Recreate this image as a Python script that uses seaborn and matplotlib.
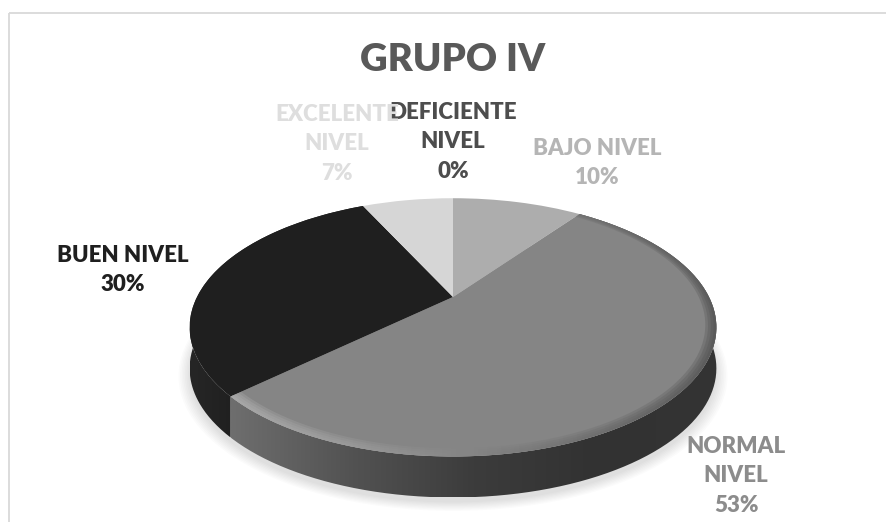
import numpy as np
import matplotlib
matplotlib.use('Agg')
import matplotlib.pyplot as plt
import seaborn as sns
from matplotlib.colors import LinearSegmentedColormap
from matplotlib.patches import Circle, Rectangle
from matplotlib.path import Path
from matplotlib.transforms import Affine2D, Transform

title = 'GRUPO IV'
categories = ['DEFICIENTE\nNIVEL', 'BAJO NIVEL', 'NORMAL\nNIVEL', 'BUEN NIVEL', 'EXCELENTE\nNIVEL']
values = [0, 10, 53, 30, 7]
slice_colors = ['#4d4d4d', '#adadad', '#858585', '#1f1f1f', '#d6d6d6']
text_colors = ['#4d4d4d', '#b5b5b5', '#8c8c8c', '#1f1f1f', '#dedede']
label_pos = [(453, 142), (597, 163), (736, 476), (123, 270), (337, 144)]

# pie geometry in pixels
cx, cy = 453, 297
rx, ry = 256, 122
tilt_k = 0.235
depth = 41


class Tilt(Transform):
    # unit circle -> perspective ellipse in pixel coordinates
    input_dims = 2
    output_dims = 2

    def transform_non_affine(self, xy):
        xy = np.asarray(xy, dtype=float)
        w = 1 + tilt_k * xy[:, 1]
        return np.column_stack([cx + rx * xy[:, 0] / w, cy - ry * xy[:, 1] / w])


sns.set_theme(style='white')
plt.rcParams['font.family'] = ['Lato', 'DejaVu Sans']

fig = plt.figure(figsize=(8.86, 5.22), dpi=100)
ax = fig.add_axes([0, 0, 1, 1])
tilt = Tilt()

wedges, _ = ax.pie(values, colors=sns.color_palette(slice_colors), startangle=90,
                   counterclock=False, wedgeprops={'linewidth': 0})
for w in wedges:
    w.set_transform(tilt + ax.transData)
    w.set_zorder(5)

ax.set_autoscale_on(False)
ax.set_aspect('auto')
ax.set_xlim(0, 886)
ax.set_ylim(522, 0)
ax.axis('off')

# soft shadow under the pie
for s in np.linspace(1.04, 1.0, 8):
    shadow = Circle((0, 0), s, facecolor='#000000', alpha=0.014, linewidth=0, zorder=1)
    ax.add_patch(shadow)
    shadow.set_transform(tilt + Affine2D().translate(0, depth + 5) + ax.transData)


def arc_points(wedge, r=1.0):
    th = np.radians(np.linspace(wedge.theta1, wedge.theta2, 300))
    return tilt.transform(np.column_stack([r * np.cos(th), r * np.sin(th)]))


def gradient_fill(poly, stops, zorder, alpha=1.0):
    cmap = LinearSegmentedColormap.from_list('g', stops)
    x0, x1 = poly[:, 0].min(), poly[:, 0].max()
    y0, y1 = poly[:, 1].min(), poly[:, 1].max()
    im = ax.imshow(np.linspace(0, 1, 256).reshape(1, -1), cmap=cmap, vmin=0, vmax=1,
                   extent=[x0, x1, y1, y0], aspect='auto', zorder=zorder, alpha=alpha)
    im.set_clip_path(Path(poly), transform=ax.transData)


normal = wedges[2]
buen = wedges[3]

# side walls
for wedge, stops in [(buen, ['#262626', '#1a1a1a', '#191919']),
                     (normal, ['#6e6e6e', '#525252', '#3c3c3c', '#323232', '#343434'])]:
    top_arc = arc_points(wedge)
    poly = np.vstack([top_arc, (top_arc + [0, depth])[::-1]])
    gradient_fill(poly, stops, 3)

# bevel along the rim of the big slice, built up so the inner edge fades out
outer = arc_points(normal)
for r in [0.96, 0.97, 0.98, 0.99]:
    inner = arc_points(normal, r)
    gradient_fill(np.vstack([outer, inner[::-1]]),
                  ['#b4b4b4', '#a0a0a0', '#858585', '#6a6a6a', '#505050'], 6, alpha=0.3)

# chart frame, its right and bottom sides are cut off by the image edge
ax.add_patch(Rectangle((9, 12.5), 900, 540, fill=False, edgecolor='#d9d9d9', linewidth=1.3, zorder=0))

ax.text(453, 60, title, ha='center', va='center', fontsize=27.5, fontweight='heavy',
        color='#595959', zorder=10)
for cat, val, col, (x, y) in zip(categories, values, text_colors, label_pos):
    ax.text(x, y, f'{cat}\n{val}%', ha='center', va='center', multialignment='center',
            fontsize=16, fontweight='heavy', color=col, linespacing=1.5, zorder=10)

fig.savefig('out.png', dpi=100)
